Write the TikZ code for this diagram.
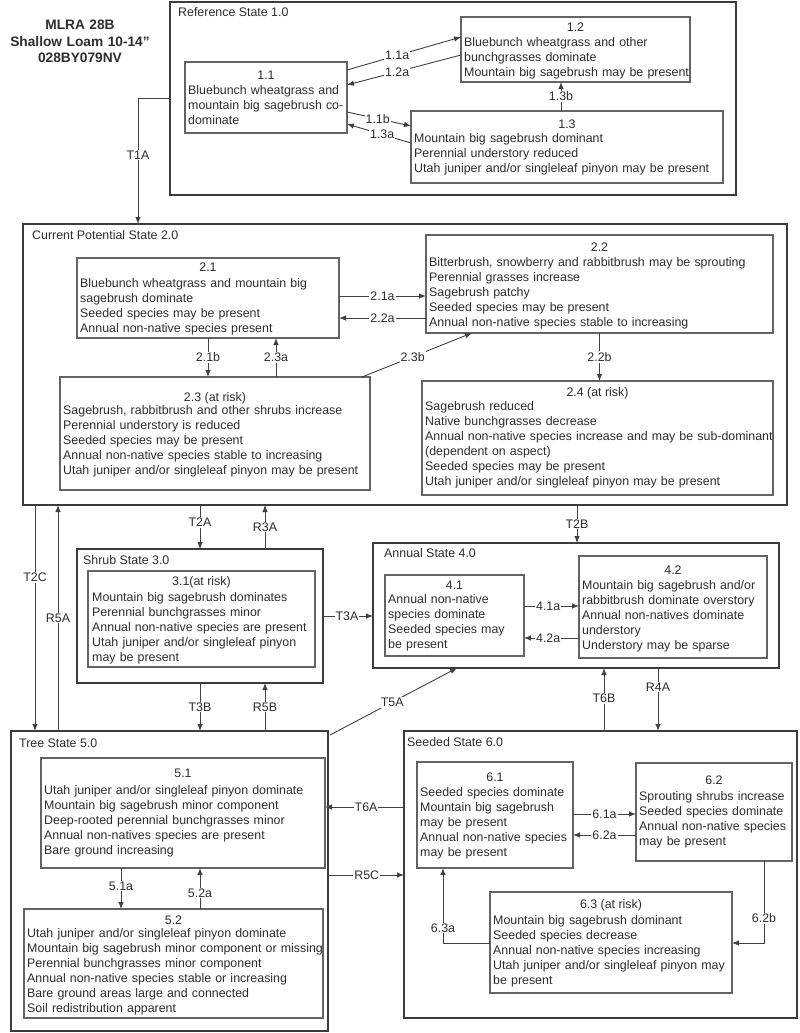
\documentclass[tikz,border=0pt]{standalone}
\usepackage{fontspec}
\setmainfont{Liberation Sans}
\usetikzlibrary{arrows.meta,calc}
\definecolor{lc}{RGB}{65,65,65}
\definecolor{oc}{RGB}{60,60,60}
\definecolor{ic}{RGB}{100,100,100}
\definecolor{tc}{RGB}{45,45,45}
\newcommand\dfont{\fontsize{12.4pt}{15pt}\selectfont}
\newcommand\stbx[6]{\node[#6, minimum width={#4-#2}, minimum height={#5-#3}, anchor=north west] (#1) at (#2,#3) {};}
\tikzset{
 stbox/.style={draw=oc, line width=1.3pt, inner sep=0pt, outer sep=0pt},
 inbox/.style={draw=ic, line width=1.1pt, inner sep=0pt, outer sep=0pt},
 body/.style={anchor=base west, inner sep=0pt, text width=400pt, align=left, font=\dfont, text=tc},
 ttl/.style={anchor=base, inner sep=0pt, font=\dfont, text=tc},
 sttl/.style={anchor=base west, inner sep=0pt, font=\dfont, text=tc},
 arr/.style={draw=lc, line width=0.9pt, -{Latex[length=7pt,width=5.5pt]}},
 lbl/.style={fill=white, inner sep=1pt, font=\dfont, text=tc},
}
\begin{document}
\begin{tikzpicture}[x=1pt,y=-1pt]
\useasboundingbox (0,0) rectangle (800,1033);
\fill[white] (0,0) rectangle (800,1033);

% header
\node[anchor=base, inner sep=0pt, text width=200pt, align=center, font=\bfseries\fontsize{13.7pt}{16.5pt}\selectfont, text=tc] (hdr) at (80,30) {MLRA 28B\\Shallow Loam 10-14"\\028BY079NV};

% state boxes
\stbx{s1}{170}{2}{736}{195}{stbox}
\stbx{s2}{23}{224}{787}{505}{stbox}
\stbx{s3}{77}{549}{323}{683}{stbox}
\stbx{s4}{373}{543}{779}{668}{stbox}
\stbx{s5}{11}{731}{328}{1031}{stbox}
\stbx{s6}{404}{731}{797}{1018}{stbox}

\node[sttl] (st1) at (178,16.5) {Reference State 1.0};
\node[sttl] (st2) at (32,239.5) {Current Potential State 2.0};
\node[sttl] (st3) at (83,564.5) {Shrub State 3.0};
\node[sttl] (st4) at (384,557.5) {Annual State 4.0};
\node[sttl] (st5) at (19,747.5) {Tree State 5.0};
\node[sttl] (st6) at (407,746.5) {Seeded State 6.0};

% community boxes
\stbx{b11}{185}{62}{347}{133}{inbox}
\stbx{b12}{461}{17}{690}{82}{inbox}
\stbx{b13}{411}{111}{723}{183}{inbox}
\stbx{b21}{77}{258}{339}{338}{inbox}
\stbx{b22}{426}{235}{773}{333}{inbox}
\stbx{b23}{60}{377}{370}{490}{inbox}
\stbx{b24}{422}{381}{773}{495}{inbox}
\stbx{b31}{88}{571}{315}{667}{inbox}
\stbx{b41}{385}{575}{524}{656}{inbox}
\stbx{b42}{579}{556}{767}{658}{inbox}
\stbx{b51}{41}{758}{325}{868}{inbox}
\stbx{b52}{24}{909}{323}{1018}{inbox}
\stbx{b61}{417}{762}{573}{868}{inbox}
\stbx{b62}{636}{763}{792}{861}{inbox}
\stbx{b63}{490}{892}{732}{993}{inbox}

% titles
\node[ttl] (t11) at (266,79.5) {1.1};
\node[ttl] (t12) at (575.5,31.5) {1.2};
\node[ttl] (t13) at (567,128.5) {1.3};
\node[ttl] (t21) at (208,271.5) {2.1};
\node[ttl] (t22) at (599.5,251.5) {2.2};
\node[ttl] (t23) at (215,401.5) {2.3 (at risk)};
\node[ttl] (t24) at (597.5,396.5) {2.4 (at risk)};
\node[ttl] (t31) at (201.5,585.5) {3.1(at risk)};
\node[ttl] (t41) at (454.5,589.5) {4.1};
\node[ttl] (t42) at (673,574.5) {4.2};
\node[ttl] (t51) at (183,777.5) {5.1};
\node[ttl] (t52) at (173.5,924.5) {5.2};
\node[ttl] (t61) at (495,781.5) {6.1};
\node[ttl] (t62) at (714,784.5) {6.2};
\node[ttl] (t63) at (611,908.5) {6.3 (at risk)};

% bodies
\node[body] (x11) at (188,94.5) {Bluebunch wheatgrass and\\mountain big sagebrush co-\\dominate};
\node[body] (x12) at (464,46.5) {Bluebunch wheatgrass and other\\bunchgrasses dominate\\Mountain big sagebrush may be present};
\node[body] (x13) at (414,142.5) {Mountain big sagebrush dominant\\Perennial understory reduced\\Utah juniper and/or singleleaf pinyon may be present};
\node[body] (x21) at (80,287.5) {Bluebunch wheatgrass and mountain big\\sagebrush dominate\\Seeded species may be present\\Annual non-native species present};
\node[body] (x22) at (429,266.5) {Bitterbrush, snowberry and rabbitbrush may be sprouting\\Perennial grasses increase\\Sagebrush patchy\\Seeded species may be present\\Annual non-native species stable to increasing};
\node[body] (x23) at (63,414.5) {Sagebrush, rabbitbrush and other shrubs increase\\Perennial understory is reduced\\Seeded species may be present\\Annual non-native species stable to increasing\\Utah juniper and/or singleleaf pinyon may be present};
\node[body] (x24) at (425,410.5) {Sagebrush reduced\\Native bunchgrasses decrease\\Annual non-native species increase and may be sub-dominant\\(dependent on aspect)\\Seeded species may be present\\Utah juniper and/or singleleaf pinyon may be present};
\node[body] (x31) at (92,601.5) {Mountain big sagebrush dominates\\Perennial bunchgrasses minor\\Annual non-native species are present\\Utah juniper and/or singleleaf pinyon\\may be present};
\node[body] (x41) at (388,603.5) {Annual non-native\\species dominate\\Seeded species may\\be present};
\node[body] (x42) at (582,589.5) {Mountain big sagebrush and/or\\rabbitbrush dominate overstory\\Annual non-natives dominate\\understory\\Understory may be sparse};
\node[body] (x51) at (44,794.5) {Utah juniper and/or singleleaf pinyon dominate\\Mountain big sagebrush minor component\\Deep-rooted perennial bunchgrasses minor\\Annual non-natives species are present\\Bare ground increasing};
\node[body] (x52) at (27,937.5) {Utah juniper and/or singleleaf pinyon dominate\\Mountain big sagebrush minor component or missing\\Perennial bunchgrasses minor component\\Annual non-native species stable or increasing\\Bare ground areas large and connected\\Soil redistribution apparent};
\node[body] (x61) at (420,796.5) {Seeded species dominate\\Mountain big sagebrush\\may be present\\Annual non-native species\\may be present};
\node[body] (x62) at (639,800.5) {Sprouting shrubs increase\\Seeded species dominate\\Annual non-native species\\may be present};
\node[body] (x63) at (493,924.5) {Mountain big sagebrush dominant\\Seeded species decrease\\Annual non-native species increasing\\Utah juniper and/or singleleaf pinyon may\\be present};

% attachment points
\coordinate (p21a) at ([yshift=-38pt]b21.north east);
\coordinate (p22a) at ([yshift=-83pt]b22.north west);
\coordinate (p23a) at ([xshift=61pt]b23.north);
\coordinate (pT2C) at ([xshift=12pt]s2.south west);
\coordinate (pR5A) at ([xshift=47pt]s5.north west);
\coordinate (pT2A) at ([xshift=123pt]s3.north west);
\coordinate (pR3A) at ([xshift=188pt]s3.north west);
\coordinate (pT2B) at ([xshift=204pt]s4.north west);
\coordinate (pT3A) at ([yshift=-67pt]s3.north east);
\coordinate (pT6B) at ([xshift=200pt]s6.north west);
\coordinate (pR4A) at ([xshift=254pt]s6.north west);
\coordinate (pT6A) at ([yshift=-76pt]s6.north west);
\coordinate (pR5C) at ([yshift=-144pt]s5.north east);
\coordinate (p41a) at ([yshift=-31pt]b41.north east);
\coordinate (p42a) at ([yshift=-82pt]b42.north west);
\coordinate (p51a) at ([xshift=80pt]b51.south west);
\coordinate (p52a) at ([xshift=176pt]b52.north west);
\coordinate (p61a) at ([yshift=-52pt]b61.north east);
\coordinate (p62a) at ([yshift=-72pt]b62.north west);

% connectors state 1
\draw[arr] ([yshift=-8pt]b11.north east) -- ([yshift=-20pt]b12.north west) node[lbl,pos=0.44] (l11a) {1.1a};
\draw[arr] ([yshift=-38pt]b12.north west) -- ([yshift=-23pt]b11.north east) node[lbl,pos=0.56] (l12a) {1.2a};
\draw[arr] ([yshift=-50pt]b11.north east) -- ([yshift=-15pt]b13.north west) node[lbl,pos=0.48] (l11b) {1.1b};
\draw[arr] ([yshift=-32pt]b13.north west) -- ([yshift=-62pt]b11.north east) node[lbl,pos=0.45] (l13a) {1.3a};
\draw[arr] ([xshift=-6pt]b13.north) -- ([xshift=-14.5pt]b12.south) node[lbl,pos=0.5] (l13b) {1.3b};
\draw[arr] ([yshift=-96pt]s1.north west) -| ([xshift=115pt]s2.north west) node[lbl,pos=0.726] (lT1A) {T1A};

% state 2
\draw[arr] (p21a) -- (b22.west |- p21a) node[lbl,pos=0.5] (l21a) {2.1a};
\draw[arr] (p22a) -- (b21.east |- p22a) node[lbl,pos=0.5] (l22a) {2.2a};
\draw[arr] (b21.south) -- (b21.south |- b23.north) node[lbl,pos=0.5] (l21b) {2.1b};
\draw[arr] (p23a) -- (p23a |- b21.south) node[lbl,pos=0.5] (l23a) {2.3a};
\draw[arr] ([xshift=-8pt]b23.north east) -- ([xshift=46pt]b22.south west) node[lbl,pos=0.46] (l23b) {2.3b};
\draw[arr] (b22.south) -- (b22.south |- b24.north) node[lbl,pos=0.5] (l22b) {2.2b};

% between states
\draw[arr] (pT2C) -- (pT2C |- s5.north) node[lbl,pos=0.32] (lT2C) {T2C};
\draw[arr] (pR5A) -- (pR5A |- s2.south) node[lbl,pos=0.5] (lR5A) {R5A};
\draw[arr] (pT2A |- s2.south) -- (pT2A) node[lbl,pos=0.4] (lT2A) {T2A};
\draw[arr] (pR3A) -- (pR3A |- s2.south) node[lbl,pos=0.5] (lR3A) {R3A};
\draw[arr] (pT2B |- s2.south) -- (pT2B) node[lbl,pos=0.5] (lT2B) {T2B};
\draw[arr] (pT3A) -- (s4.west |- pT3A) node[lbl,pos=0.48] (lT3A) {T3A};
\draw[arr] (pT2A |- s3.south) -- (pT2A |- s5.north) node[lbl,pos=0.5] (lT3B) {T3B};
\draw[arr] (pR3A |- s5.north) -- (pR3A |- s3.south) node[lbl,pos=0.5] (lR5B) {R5B};
\draw[arr] ([xshift=2pt,yshift=-4pt]s5.north east) -- ([xshift=84pt]s4.south west) node[lbl,pos=0.49] (lT5A) {T5A};
\draw[arr] (pT6B) -- (pT6B |- s4.south) node[lbl,pos=0.52] (lT6B) {T6B};
\draw[arr] (pR4A |- s4.south) -- (pR4A) node[lbl,pos=0.3] (lR4A) {R4A};
\draw[arr] (pT6A) -- (b51.east |- pT6A) node[lbl,pos=0.48] (lT6A) {T6A};
\draw[arr] (pR5C) -- (s6.west |- pR5C) node[lbl,pos=0.51] (lR5C) {R5C};

% state 4
\draw[arr] (p41a) -- (b42.west |- p41a) node[lbl,pos=0.44] (l41a) {4.1a};
\draw[arr] (p42a) -- (b41.east |- p42a) node[lbl,pos=0.56] (l42a) {4.2a};

% state 5
\draw[arr] (p51a) -- (p51a |- b52.north) node[lbl,pos=0.44] (l51a) {5.1a};
\draw[arr] (p52a) -- (p52a |- b51.south) node[lbl,pos=0.39] (l52a) {5.2a};

% state 6
\draw[arr] (p61a) -- (b62.west |- p61a) node[lbl,pos=0.5] (l61a) {6.1a};
\draw[arr] (p62a) -- (b61.east |- p62a) node[lbl,pos=0.5] (l62a) {6.2a};
\draw[arr] ([xshift=128pt]b62.south west) |- ([yshift=-51pt]b63.north east) node[lbl,pos=0.35] (l62b) {6.2b};
\draw[arr] ([yshift=-51pt]b63.north west) -| ([xshift=26pt]b61.south west) node[lbl,pos=0.6] (l63a) {6.3a};
\end{tikzpicture}
\end{document}
